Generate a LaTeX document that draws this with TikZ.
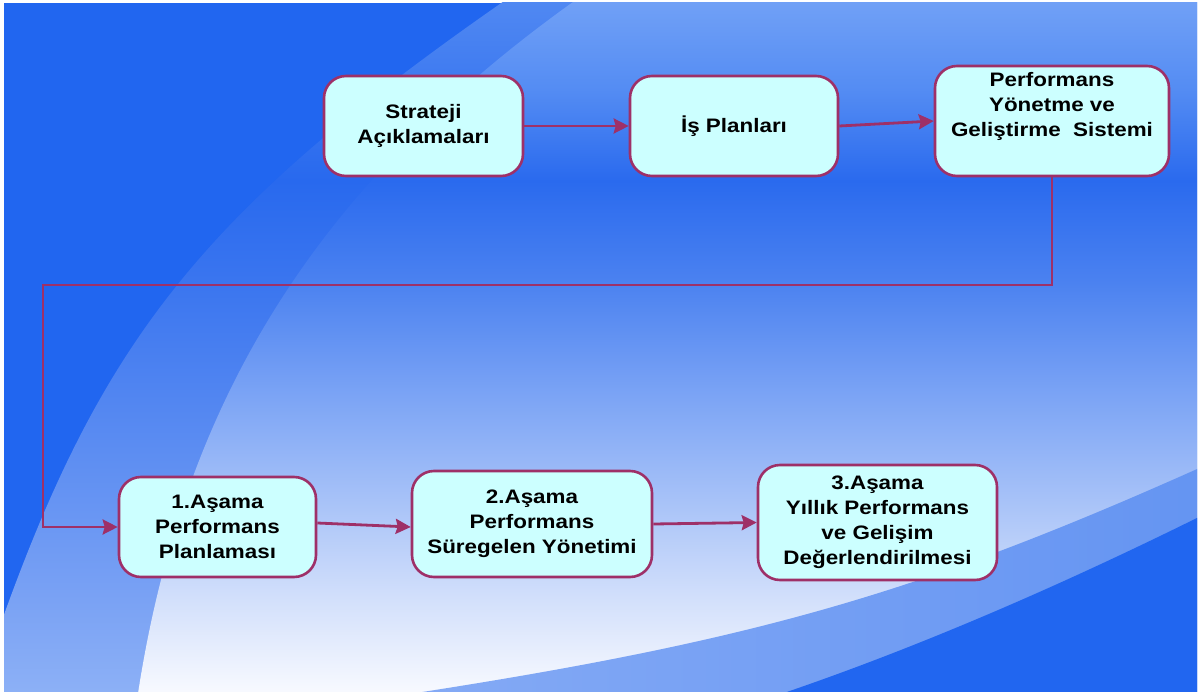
\documentclass[tikz,border=0pt]{standalone}
\usepackage{fontspec}
\setmainfont{Liberation Sans}[FakeStretch=1.15]
\usetikzlibrary{arrows.meta}

\definecolor{bgblue}{RGB}{33,102,240}
\definecolor{bandbr}{RGB}{134,171,245}
\definecolor{bandbrR}{RGB}{100,148,242}
\definecolor{boxfill}{RGB}{204,255,255}
\definecolor{plum}{RGB}{158,48,104}

% inner light area: light top, darker strip, fading to white
\definecolor{inA}{RGB}{112,160,246}
\definecolor{inB}{RGB}{84,140,243}
\definecolor{inC}{RGB}{42,106,238}
\definecolor{inD}{RGB}{74,129,240}
\definecolor{inE}{RGB}{125,165,245}
\definecolor{inF}{RGB}{167,194,248}
\definecolor{inG}{RGB}{211,224,251}
\definecolor{inH}{RGB}{247,249,255}
\pgfdeclareverticalshading{innerfade}{100bp}{color(0bp)=(inH); color(25bp)=(inH);
  color(31.6bp)=(inG); color(38.9bp)=(inF); color(46.2bp)=(inE); color(54.9bp)=(inD);
  color(62.1bp)=(inC); color(68.7bp)=(inB); color(75bp)=(inA); color(100bp)=(inA)}

% band between the two arcs
\definecolor{bdA}{RGB}{80,136,242}
\definecolor{bdC}{RGB}{40,105,238}
\definecolor{bdD}{RGB}{58,117,239}
\definecolor{bdE}{RGB}{92,141,242}
\definecolor{bdF}{RGB}{122,162,244}
\definecolor{bdG}{RGB}{140,176,246}
\pgfdeclareverticalshading{bandfade}{100bp}{color(0bp)=(bdG); color(25bp)=(bdG);
  color(31.6bp)=(bdF); color(42.5bp)=(bdE); color(54.9bp)=(bdD);
  color(62.1bp)=(bdC); color(75bp)=(bdA); color(100bp)=(bdA)}

\begin{document}
\begin{tikzpicture}[x=1pt,y=-1pt,
  box/.style={draw=plum,line width=2.6pt,fill=boxfill,rounded corners=22pt,
    align=center,inner sep=0pt,font=\fontsize{19.5}{25}\selectfont\bfseries},
  flow/.style={draw=plum,line width=2.8pt,-{Stealth[length=15pt,width=15pt,inset=2pt]}}]
\useasboundingbox (0,0) rectangle (1200,693);

% background
\begin{scope}
\clip (4,3) rectangle (1197,691);
\fill[bgblue] (4,3) rectangle (1197,691);
\begin{scope}
\clip (520,-10) .. controls (201,210) and (100,340) .. (-5,640)
  -- (-5,710) -- (1220,710) -- (1220,-10) -- cycle;
\shade[shading=bandfade] (4,3) rectangle (1197,691);
\end{scope}
\begin{scope}
\clip (590,-10) .. controls (302,190) and (179,420) .. (137,700)
  -- (137,710) -- (1220,710) -- (1220,-10) -- cycle;
\shade[shading=innerfade] (4,3) rectangle (1197,691);
\end{scope}
\begin{scope}
\clip (370,700) .. controls (750,643) and (915,596) .. (1215,461)
  -- (1215,710) -- (370,710) -- cycle;
\shade[left color=bandbr,right color=bandbrR] (370,450) rectangle (1215,710);
\end{scope}
\fill[bgblue] (760,701) .. controls (910,651.5) and (1065,584) .. (1215,509)
  -- (1215,710) -- (760,710) -- cycle;
\end{scope}

% boxes: name/x/y/width/height/text
\foreach \n/\x/\y/\w/\h/\t in {
  strat/423.5/126/199/100/{Strateji\\Açıklamaları},
  isplan/734/126/208/100/{İş Planları},
  pyg/1052/121/234/110/{Performans\\Yönetme ve\\Geliştirme\ \ Sistemi\\\strut},
  asama1/217.5/527/197/100/{1.Aşama\\Performans\\Planlaması},
  asama2/532/524/240/106/{2.Aşama\\Performans\\Süregelen Yönetimi},
  asama3/877.5/522.5/239/115/{3.Aşama\\Yıllık Performans\\ve Gelişim\\Değerlendirilmesi}}
  \node[box,minimum width=\w pt,minimum height=\h pt] (\n) at (\x,\y) {\t};

% arrows
\foreach \a/\b in {strat/isplan,isplan/pyg,asama2/asama3}
  \draw[flow] (\a.east) -- (\b.west);
\draw[flow] ([yshift=4pt]asama1.east) -- ([yshift=-3pt]asama2.west);
\coordinate (bendR) at (1052,285);
\coordinate (bendL) at (43,285);
\draw[flow] (pyg.south) -- (bendR) -- (bendL) |- (asama1.west);
\end{tikzpicture}
\end{document}
